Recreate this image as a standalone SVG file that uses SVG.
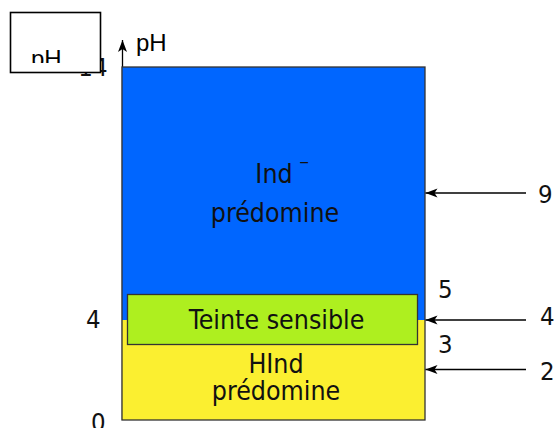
<svg xmlns="http://www.w3.org/2000/svg" width="554" height="428" viewBox="0 0 554 428">
<style>
.t{font-family:"DejaVu Sans Condensed","DejaVu Sans",sans-serif;font-stretch:condensed;font-size:26.5px;fill:#111}
.n{font-family:"DejaVu Sans Condensed","DejaVu Sans",sans-serif;font-stretch:condensed;font-size:25.5px;fill:#111}
.c{text-anchor:middle}
.ph{font-family:"Liberation Sans",sans-serif;font-size:24px;fill:#000}
.ar{stroke:#000;stroke-width:1.3;fill:none}
</style>
<defs>
<marker id="ah" markerWidth="13" markerHeight="11" refX="12" refY="5.5" orient="auto" markerUnits="userSpaceOnUse">
<path d="M12,5.5 L0,1 L3,5.5 L0,10 Z" fill="#000"/>
</marker>
<clipPath id="cl"><rect x="10" y="12" width="91" height="51"/></clipPath>
</defs>
<rect width="554" height="428" fill="#fff"/>
<text class="n" x="107.5" y="76" text-anchor="end">14</text>
<g id="legend">
<rect x="10.5" y="12.5" width="90" height="60" fill="#fff" stroke="#000" stroke-width="1.6"/>
<text class="ph" x="31" y="67" clip-path="url(#cl)">pH</text>
</g>
<g id="axis">
<line x1="122.5" y1="420" x2="122.5" y2="40" class="ar" marker-end="url(#ah)"/>
<text class="ph" x="136" y="51">pH</text>
</g>
<g id="scale">
<rect x="122" y="67" width="303" height="253" fill="#0066ff"/>
<rect x="122" y="320" width="303" height="100" fill="#fbef30"/>
<rect x="122" y="67" width="303" height="353" fill="none" stroke="#333" stroke-width="1.3"/>
</g>
<g id="ind">
<text class="t c" x="274" y="183">Ind</text>
<text class="t" x="299" y="167" style="font-size:14px">−</text>
<text class="t c" x="275" y="222">prédomine</text>
</g>
<g id="hind">
<text class="t c" x="276" y="373">HInd</text>
<text class="t c" x="276" y="400">prédomine</text>
</g>
<g id="teinte">
<rect x="127.5" y="294.5" width="290" height="50" fill="#aeef1f" stroke="#333" stroke-width="1.3"/>
<text class="t c" x="276.5" y="329">Teinte sensible</text>
</g>
<g id="connectors">
<line x1="526" y1="193" x2="425.5" y2="193" class="ar" marker-end="url(#ah)"/>
<line x1="526" y1="320" x2="425.5" y2="320" class="ar" marker-end="url(#ah)"/>
<line x1="526" y1="369.5" x2="425.5" y2="369.5" class="ar" marker-end="url(#ah)"/>
</g>
<g id="labels">
<text class="n" x="86" y="328">4</text>
<text class="n" x="91" y="431">0</text>
<text class="n" x="538" y="203">9</text>
<text class="n" x="540" y="325">4</text>
<text class="n" x="540" y="380">2</text>
<text class="n" x="438" y="298">5</text>
<text class="n" x="438" y="353">3</text>
</g>
</svg>
